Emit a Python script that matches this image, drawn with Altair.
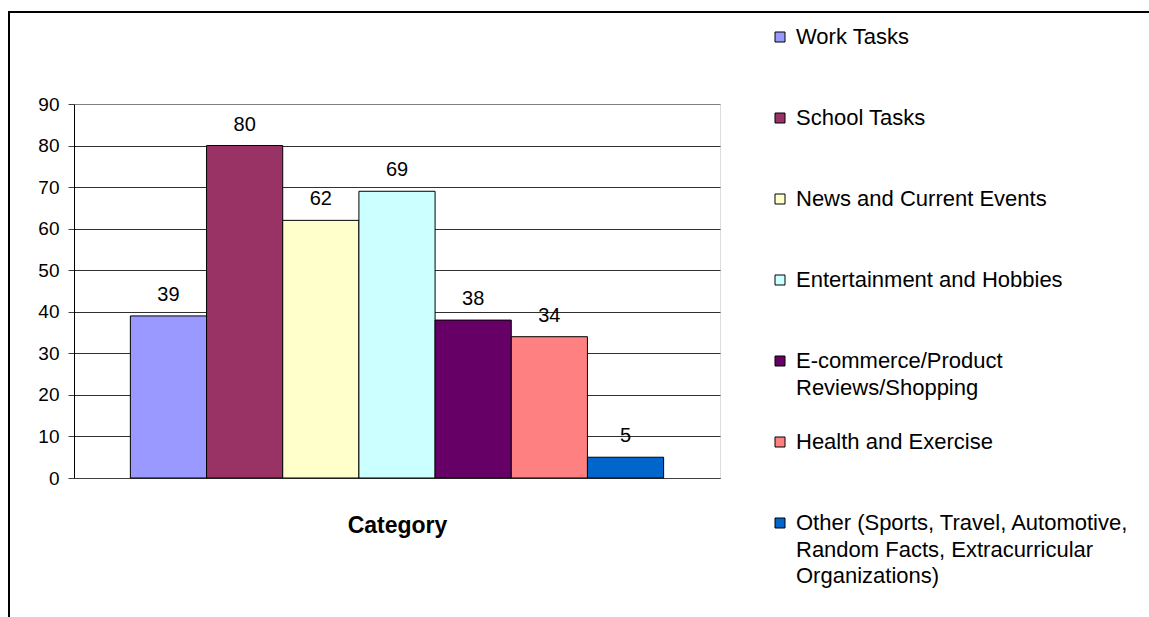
import altair as alt
import pandas as pd

# Categories ("|" marks a line break in the legend label)
categories = [
    "Work Tasks",
    "School Tasks",
    "News and Current Events",
    "Entertainment and Hobbies",
    "E-commerce/Product|Reviews/Shopping",
    "Health and Exercise",
    "Other (Sports, Travel, Automotive,|Random Facts, Extracurricular|Organizations)",
]
values = [39, 80, 62, 69, 38, 34, 5]
colors = ["#9999FF", "#993366", "#FFFFCC", "#CCFFFF", "#660066", "#FF8080", "#0066CC"]
y_ticks = [0, 10, 20, 30, 40, 50, 60, 70, 80, 90]

FONT = "Liberation Sans"

df = pd.DataFrame({"category": categories, "value": values})

x_enc = alt.X(
    "category:N",
    sort=categories,
    scale=alt.Scale(paddingInner=0, paddingOuter=0.74),
    axis=alt.Axis(
        title="Category",
        labels=False,
        ticks=False,
        domainColor="#404040",
        domainWidth=1,
        titleFont=FONT,
        titleFontSize=23,
        titleFontWeight="bold",
        titleColor="black",
        titlePadding=36,
    ),
)
y_enc = alt.Y(
    "value:Q",
    scale=alt.Scale(domain=[0, 90], nice=False),
    axis=alt.Axis(
        values=y_ticks,
        title=None,
        domainColor="black",
        domainWidth=1,
        tickColor="#404040",
        tickSize=6,
        labelFont=FONT,
        labelFontSize=19,
        labelColor="black",
        labelPadding=9,
        grid=True,
        gridColor={"condition": {"test": "datum.value == 90", "value": "#808080"}, "value": "#303030"},
        gridWidth=1,
    ),
)

bars = alt.Chart(df).mark_bar(stroke="black", strokeWidth=1, opacity=1).encode(
    x=x_enc,
    y=y_enc,
    color=alt.Color(
        "category:N",
        sort=categories,
        scale=alt.Scale(domain=categories, range=colors),
        legend=alt.Legend(
            title=None,
            orient="none",
            legendX=695,
            legendY=-78,
            padding=0,
            symbolType="square",
            symbolSize=100,
            symbolStrokeColor="black",
            symbolStrokeWidth=1,
            symbolOpacity=1,
            labelFont=FONT,
            labelFontSize=22,
            labelColor="black",
            labelOffset=5,
            labelLimit=500,
            labelBaseline="middle",
            rowPadding=6,
            labelExpr="slice(split(datum.label + '||', '|'), 0, 3)",
        ),
    ),
)

labels = alt.Chart(df).mark_text(
    baseline="alphabetic", dy=-15, fontSize=20, font=FONT, color="black"
).encode(x=alt.X("category:N", sort=categories), y="value:Q", text="value:Q")

frame_df = pd.DataFrame({"k": [0]})
frame_top = alt.Chart(frame_df).mark_rule(color="black", strokeWidth=2).encode(
    x=alt.value(-66), x2=alt.value(1075), y=alt.value(-92)
)
frame_left = alt.Chart(frame_df).mark_rule(color="black", strokeWidth=2).encode(
    x=alt.value(-65), y=alt.value(-93), y2=alt.value(513)
)

chart = (
    alt.layer(bars, labels, frame_top, frame_left)
    .properties(
        width=646,
        height=374,
        padding={"left": 74, "top": 104, "right": 429, "bottom": 139},
        autosize=alt.AutoSizeParams(type="none"),
        background="white",
    )
    .configure_view(fill="#C0C0C0", stroke="#808080", strokeWidth=1)
    .configure(style={"guide-label": {"lineHeight": 26.5}})
)

chart.save("out.html", embed_options={"renderer": "svg", "actions": False})
